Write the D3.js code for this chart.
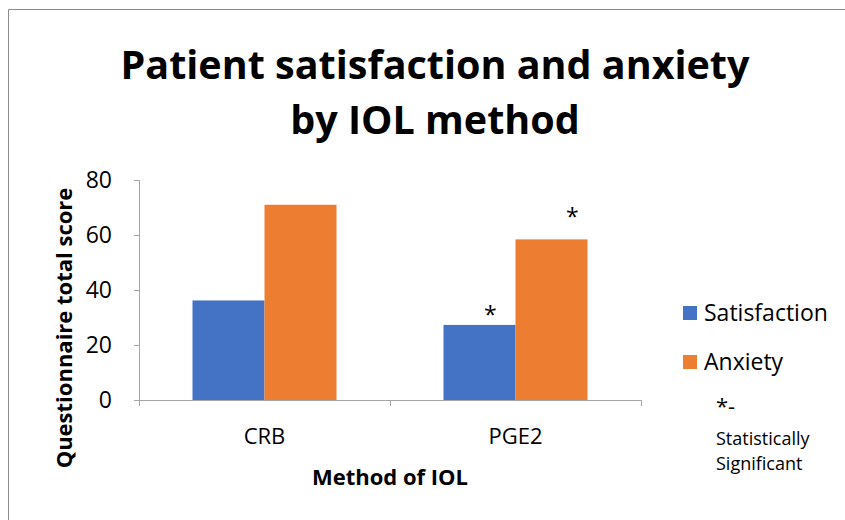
<!doctype html>
<html>
  <head>
    <meta charset="utf-8">
    <title>Patient satisfaction and anxiety by IOL method</title>
    <style>
    body {
      margin: 0;
      background-color: #ffffff;
      font-family: 'Open Sans', 'Liberation Sans', sans-serif;
    }
    </style>
    <script src="https://cdnjs.cloudflare.com/ajax/libs/d3/7.8.5/d3.min.js"></script>
  </head>
  <body>
    <div id="chart"></div>
    <script>
      // data
      const categories = ['CRB', 'PGE2'];
      const seriesNames = ['Satisfaction', 'Anxiety'];
      const satisfaction = [36.2, 27.3];
      const anxiety = [71, 58.4];
      const yTicks = [0, 20, 40, 60, 80];
      // which bars carry a significance star
      const significant = [[false, false], [true, true]];

      const colors = ['#4472c4', '#ed7d31'];
      const W = 845, H = 520;
      const font = "'Open Sans', sans-serif";

      const svg = d3.select('#chart')
        .append('svg')
        .attr('width', W)
        .attr('height', H);

      // outer frame (only top and left show)
      svg.append('path')
        .attr('d', 'M8.5,' + H + 'V9.5H' + W)
        .attr('fill', 'none')
        .attr('stroke', '#8c8c8c')
        .attr('stroke-width', 1);

      // title
      svg.append('text')
        .attr('x', 435).attr('y', 79)
        .attr('text-anchor', 'middle')
        .style('font-family', font)
        .style('font-weight', 'bold')
        .style('font-size', '39.5px')
        .text('Patient satisfaction and anxiety');
      svg.append('text')
        .attr('x', 435).attr('y', 134)
        .attr('text-anchor', 'middle')
        .style('font-family', font)
        .style('font-weight', 'bold')
        .style('font-size', '39.5px')
        .text('by IOL method');

      const x0 = d3.scaleBand().domain(categories).range([139, 641]);
      const x1 = d3.scaleBand().domain(seriesNames).range([53.5, 197.5]);
      const y = d3.scaleLinear().domain([0, 80]).range([400, 180]);

      // y axis
      const yAxis = svg.append('g')
        .attr('transform', 'translate(139,0)')
        .call(d3.axisLeft(y).tickValues(yTicks).tickSize(5).tickPadding(22));
      yAxis.select('.domain').attr('stroke', '#a6a6a6').attr('d', 'M-5,180.5H0.5V400.5');
      yAxis.selectAll('line').attr('stroke', '#a6a6a6');
      yAxis.selectAll('text')
        .style('font-family', font)
        .style('font-size', '23px')
        .attr('fill', '#000');

      // x axis
      const xAxis = svg.append('g')
        .attr('transform', 'translate(0,400)')
        .call(d3.axisBottom(x0).tickSize(0).tickPadding(28));
      xAxis.select('.domain').attr('stroke', '#a6a6a6').attr('d', 'M139.5,0.5H641');
      xAxis.selectAll('text')
        .style('font-family', font)
        .style('font-size', '22px')
        .attr('fill', '#000');
      // category separators
      xAxis.selectAll('.sep')
        .data([139, 390, 641])
        .join('line')
        .attr('class', 'sep')
        .attr('x1', d => d + 0.5).attr('x2', d => d + 0.5)
        .attr('y1', 0).attr('y2', 6)
        .attr('stroke', '#a6a6a6');

      // bars
      const rows = categories.map((c, i) => ({
        cat: c,
        vals: [satisfaction[i], anxiety[i]],
        sig: significant[i]
      }));
      const groups = svg.selectAll('.grp')
        .data(rows)
        .join('g')
        .attr('class', 'grp')
        .attr('transform', d => 'translate(' + x0(d.cat) + ',0)');

      const items = d => d.vals.map((v, j) => ({ name: seriesNames[j], j: j, v: v, sig: d.sig[j] }));

      groups.selectAll('rect')
        .data(items)
        .join('rect')
        .attr('x', d => x1(d.name))
        .attr('width', x1.bandwidth())
        .attr('y', d => y(d.v))
        .attr('height', d => y(0) - y(d.v))
        .attr('fill', d => colors[d.j]);

      // star label offsets per series (as placed in the original)
      const starDx = [0.65, 0.79], starDy = [2, 14];
      groups.selectAll('.star')
        .data(d => items(d).filter(e => e.sig))
        .join('text')
        .attr('class', 'star')
        .attr('x', d => x1(d.name) + x1.bandwidth() * starDx[d.j])
        .attr('y', d => y(d.v) - starDy[d.j])
        .attr('text-anchor', 'middle')
        .style('font-family', font)
        .style('font-size', '23px')
        .text('*');

      // axis titles
      svg.append('text')
        .attr('transform', 'translate(72,328) rotate(-90)')
        .attr('text-anchor', 'middle')
        .style('font-family', font)
        .style('font-weight', 'bold')
        .style('font-size', '22px')
        .text('Questionnaire total score');
      svg.append('text')
        .attr('x', 390).attr('y', 485)
        .attr('text-anchor', 'middle')
        .style('font-family', font)
        .style('font-weight', 'bold')
        .style('font-size', '22px')
        .text('Method of IOL');

      // legend
      const legend = svg.selectAll('.leg')
        .data(seriesNames)
        .join('g')
        .attr('class', 'leg')
        .attr('transform', (d, i) => 'translate(683,' + (306 + i * 49) + ')');
      legend.append('rect')
        .attr('width', 14).attr('height', 14)
        .attr('fill', (d, i) => colors[i]);
      legend.append('text')
        .attr('x', 21).attr('y', 15)
        .style('font-family', font)
        .style('font-size', '23px')
        .text(d => d);

      svg.append('text')
        .attr('x', 716).attr('y', 414)
        .style('font-family', font)
        .style('font-size', '22px')
        .text('*-');
      svg.append('text')
        .attr('x', 716).attr('y', 445)
        .style('font-family', font)
        .style('font-size', '18px')
        .text('Statistically');
      svg.append('text')
        .attr('x', 716).attr('y', 470)
        .style('font-family', font)
        .style('font-size', '18px')
        .text('Significant');
    </script>
  </body>
</html>
